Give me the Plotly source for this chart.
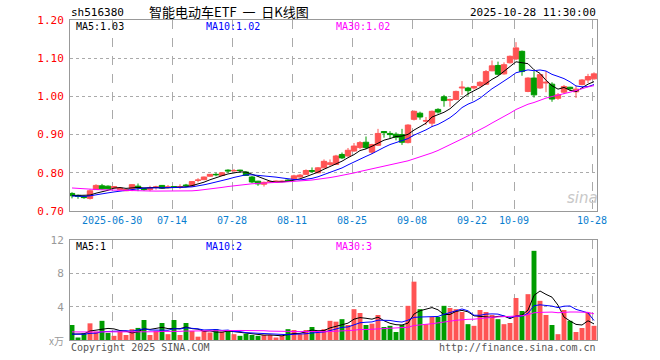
import plotly.graph_objects as go
import pandas as pd

# ---------------- data ----------------
open_ = [0.746,0.741,0.738,0.733,0.756,0.766,0.765,0.760,0.756,0.753,
         0.758,0.765,0.759,0.756,0.762,0.767,0.762,0.764,0.762,0.768,
         0.765,0.780,0.782,0.791,0.796,0.793,0.807,0.805,0.807,0.802,
         0.789,0.778,0.770,0.776,0.776,0.777,0.781,0.783,0.789,0.796,
         0.806,0.800,0.813,0.822,0.822,0.848,0.844,0.857,0.866,0.880,
         0.854,0.872,0.908,0.903,0.901,0.900,0.879,0.940,0.956,0.935,
         0.930,0.966,0.999,0.990,0.992,1.022,1.022,1.022,1.028,1.032,
         1.067,1.081,1.059,1.088,1.098,1.118,1.013,1.048,1.022,1.035,
         1.032,0.995,1.011,1.024,1.012,1.031,1.043,1.046]
high = [0.749,0.743,0.740,0.757,0.770,0.771,0.767,0.765,0.762,0.758,
        0.770,0.772,0.760,0.766,0.766,0.768,0.768,0.765,0.770,0.771,
        0.778,0.786,0.790,0.797,0.800,0.802,0.809,0.810,0.808,0.803,
        0.792,0.779,0.777,0.779,0.780,0.780,0.783,0.795,0.797,0.809,
        0.814,0.815,0.835,0.835,0.847,0.853,0.865,0.878,0.883,0.895,
        0.876,0.915,0.909,0.909,0.906,0.915,0.927,0.963,0.960,0.946,
        0.963,0.969,1.004,0.994,1.015,1.040,1.025,1.028,1.040,1.069,
        1.094,1.091,1.089,1.107,1.142,1.120,1.050,1.066,1.059,1.066,
        1.037,1.009,1.030,1.025,1.028,1.045,1.059,1.063]
low = [0.733,0.732,0.732,0.730,0.755,0.756,0.756,0.758,0.755,0.752,
       0.752,0.752,0.753,0.752,0.756,0.759,0.759,0.760,0.758,0.763,
       0.764,0.775,0.781,0.790,0.791,0.792,0.800,0.803,0.800,0.792,
       0.773,0.766,0.764,0.774,0.774,0.775,0.777,0.781,0.788,0.795,
       0.800,0.799,0.812,0.818,0.821,0.836,0.843,0.855,0.862,0.862,
       0.849,0.870,0.892,0.890,0.885,0.873,0.877,0.937,0.939,0.925,
       0.920,0.955,0.973,0.973,0.990,1.004,1.002,1.018,1.025,1.030,
       1.066,1.055,1.057,1.086,1.095,1.054,1.011,0.997,1.020,1.011,
       0.986,0.991,1.006,1.015,0.996,1.029,1.035,1.044]
close = [0.740,0.738,0.735,0.753,0.767,0.758,0.758,0.764,0.760,0.756,
         0.769,0.760,0.756,0.761,0.763,0.760,0.763,0.762,0.764,0.766,
         0.777,0.781,0.789,0.796,0.795,0.800,0.805,0.806,0.806,0.793,
         0.776,0.771,0.775,0.777,0.778,0.778,0.779,0.792,0.794,0.806,
         0.804,0.813,0.830,0.826,0.844,0.839,0.859,0.870,0.879,0.866,
         0.874,0.903,0.905,0.900,0.893,0.880,0.925,0.961,0.946,0.937,
         0.961,0.959,0.989,0.992,1.013,1.024,1.015,1.026,1.037,1.065,
         1.080,1.058,1.083,1.105,1.127,1.065,1.048,1.004,1.057,1.037,
         0.993,1.004,1.026,1.020,1.019,1.043,1.052,1.059]
volume = [1.8,0.3,0.8,2.0,1.0,2.3,0.85,0.5,1.0,0.6,
          1.3,1.45,2.4,0.6,1.1,2.04,0.7,2.4,0.6,2.04,
          1.08,0.4,1.08,0.9,1.3,1.0,1.1,0.7,0.5,0.75,
          0.6,0.5,0.6,0.6,0.3,0.5,1.3,1.2,0.7,1.2,
          1.56,0.9,1.3,2.3,2.2,2.5,1.8,3.7,3.24,1.8,
          1.96,3.0,1.56,1.7,0.96,1.8,4.1,7.0,3.7,1.9,
          2.76,2.76,4.1,3.84,3.7,3.36,1.9,1.7,3.6,3.36,
          3.0,2.5,1.9,2.04,5.04,3.48,5.5,10.7,4.7,3.0,
          1.8,0.7,3.6,2.3,0.96,1.44,3.24,1.7]
# closes / volumes of the 29 sessions before the window (feed the moving averages)
prior_close = [0.778,0.781,0.779,0.776,0.780,0.777,0.775,0.772,0.774,0.770,
               0.768,0.771,0.773,0.769,0.766,0.764,0.767,0.762,0.758,0.755,
               0.744,0.741,0.738,0.735,0.734,0.736,0.740,0.744,0.742]
prior_volume = [1.2,0.9,1.4,1.0,1.1,1.3,0.8,1.2,1.5,1.0,
                0.9,1.1,1.3,1.0,0.8,1.2,1.4,0.9,1.0,1.1,
                0.7,0.6,0.9,0.8,0.6,0.4,0.5,0.3,0.5]
tick_dates = ["2025-06-30","2025-07-14","2025-07-28","2025-08-11","2025-08-25",
              "2025-09-08","2025-09-22","2025-10-09","2025-10-28"]
tick_text = ["2025-06-30","07-14","07-28","08-11","08-25","09-08","09-22","10-09","10-28"]
price_ticks = [0.70,0.80,0.90,1.00,1.10,1.20]
vol_ticks = [4,8,12]
ma_labels = ["MA5:1.03","MA10:1.02","MA30:1.02"]
vol_ma_labels = ["MA5:1","MA10:2","MA30:3"]

# trading calendar
days = pd.bdate_range("2025-06-19","2025-10-28")
days = [d for d in days if not (pd.Timestamp("2025-10-01") <= d <= pd.Timestamp("2025-10-08"))]
dates = [d.strftime("%Y-%m-%d") for d in days]
n = len(close)
idx = list(range(n))
tick_idx = [dates.index(d) - 0.32 for d in tick_dates]

def ma(prior, vals, w):
    allv = prior + vals
    p = len(prior)
    return [sum(allv[p + k - w + 1:p + k + 1]) / w for k in range(len(vals))]

RED = "#ff5454"
GREEN = "#009c00"
MA_COLORS = ["#000000", "#0000ff", "#ff00ff"]
FONT = "DejaVu Sans Mono"

fig = go.Figure()
fig.add_trace(go.Candlestick(
    x=idx, open=open_, high=high, low=low, close=close,
    increasing=dict(line=dict(color=RED, width=1), fillcolor=RED),
    decreasing=dict(line=dict(color=GREEN, width=1), fillcolor=GREEN),
    whiskerwidth=0, xaxis="x", yaxis="y", hoverinfo="skip"))
for w, c in zip([5, 10, 30], MA_COLORS):
    fig.add_trace(go.Scatter(x=idx, y=ma(prior_close, close, w), mode="lines",
                             line=dict(color=c, width=1), xaxis="x", yaxis="y",
                             hoverinfo="skip"))
bar_colors = [RED if c >= o else GREEN for o, c in zip(open_, close)]
fig.add_trace(go.Bar(x=idx, y=volume, marker=dict(color=bar_colors, line=dict(width=0)),
                     width=0.82, xaxis="x2", yaxis="y2", hoverinfo="skip"))
for w, c in zip([5, 10, 30], MA_COLORS):
    fig.add_trace(go.Scatter(x=idx, y=ma(prior_volume, volume, w), mode="lines",
                             line=dict(color=c, width=1), xaxis="x2", yaxis="y2",
                             hoverinfo="skip"))

W, H = 660, 360
L, R, T, B = 70, 63, 20, 20
PW, PH = W - L - R, H - T - B
def px(x):
    return (x - L) / PW
def py(y):
    return (H - B - y) / PH

xr = [-1/3, 87.5]
common_x = dict(range=xr, showgrid=True, gridcolor="#aaaaaa", griddash="dash", gridwidth=1,
                tickvals=tick_idx, zeroline=False, showline=True, linecolor="#999999",
                linewidth=1, mirror=True, ticks="", fixedrange=True, automargin=False)
fig.update_layout(
    width=W, height=H, margin=dict(l=L, r=R, t=T, b=B, autoexpand=False),
    paper_bgcolor="white", plot_bgcolor="white", showlegend=False,
    boxgap=0.1, boxgroupgap=0,
    xaxis=dict(common_x, domain=[0, 1], anchor="y", ticktext=tick_text,
               tickfont=dict(family=FONT, size=10, color="#0a7ecf"),
               rangeslider=dict(visible=False)),
    xaxis2=dict(common_x, domain=[0, 1], anchor="y2", showticklabels=False),
    yaxis=dict(domain=[py(211), 1], range=[0.70, 1.20], tickvals=price_ticks,
               tickformat=".2f", showgrid=True, gridcolor="#aaaaaa", griddash="dot",
               zeroline=False, showline=True, linecolor="#999999", mirror=True,
               ticks="outside", ticklen=3, tickcolor="rgba(0,0,0,0)", automargin=False,
               tickfont=dict(family=FONT, size=11, color="#ff0000"), anchor="x",
               fixedrange=True),
    yaxis2=dict(domain=[0, py(240)], range=[0, 12], tickvals=vol_ticks,
                showgrid=True, gridcolor="#aaaaaa", griddash="dot",
                zeroline=False, showline=True, linecolor="#999999", mirror=True,
                ticks="outside", ticklen=3, tickcolor="rgba(0,0,0,0)", automargin=False,
                tickfont=dict(family=FONT, size=11, color="#999999"), anchor="x2",
                fixedrange=True),
)

ann = []
def text(x, y, s, color="#000", size=10, xanchor="left", family=FONT):
    ann.append(dict(x=px(x), y=py(y), xref="paper", yref="paper", text=s, showarrow=False,
                    xanchor=xanchor, yanchor="middle",
                    font=dict(family=family, size=size, color=color)))

text(69, 12, "sh516380", "#000", 11)
text(229, 11.5, "智能电动车ETF&nbsp;&nbsp;一&nbsp;&nbsp;日K线图", "#000", 13, "center",
     family="Noto Sans CJK SC")
text(598, 12, "2025-10-28 11:30:00", "#000", 11, "right")
for s, x, c in zip(ma_labels, [74, 204, 334], MA_COLORS):
    text(x, 27, s, c, 10)
for s, x, c in zip(vol_ma_labels, [74, 204, 334], MA_COLORS):
    text(x, 246, s, c, 10)
text(66, 340, "x万", "#999999", 10, "right", family="Noto Sans CJK SC")
text(69, 347, "Copyright 2025 SINA.COM", "#555555", 10)
text(598, 347, "http://finance.sina.com.cn", "#555555", 10, "right")
text(582, 198, "<i>sina</i>", "#c8c8c8", 15, "center", family="DejaVu Sans")
fig.update_layout(annotations=ann)

fig.write_html("out.html", config={"displayModeBar": False, "staticPlot": True},
               post_script="document.body.style.margin='0';document.body.style.overflow='hidden';")
